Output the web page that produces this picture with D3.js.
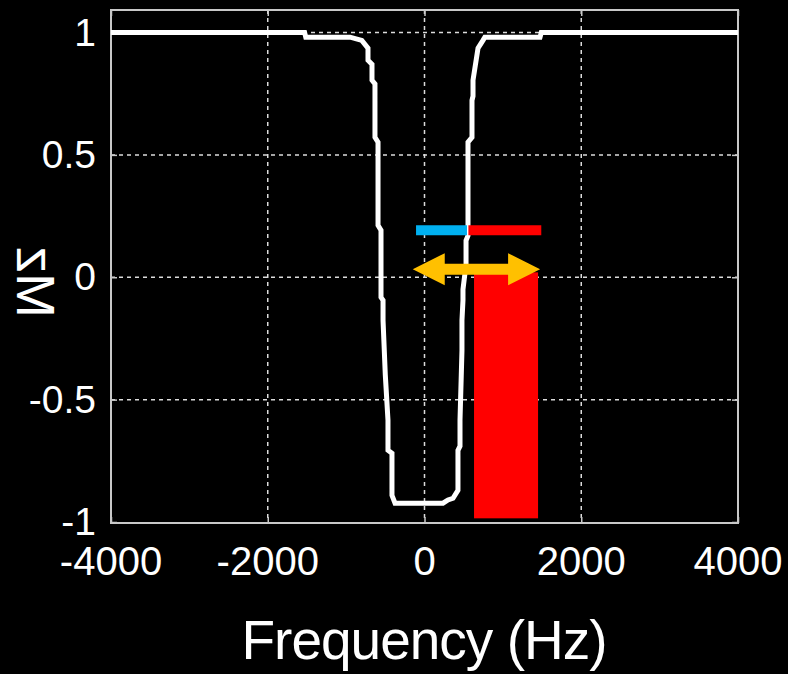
<!DOCTYPE html>
<html><head><meta charset="utf-8">
<script src="https://cdn.jsdelivr.net/npm/d3@7"></script>
<style>
html,body{margin:0;padding:0;background:#000;}
svg{display:block;background:#000;}
text{font-family:"Liberation Sans",Arial,Helvetica,sans-serif;fill:#fff;}
</style></head>
<body><svg id="chart" width="788" height="674"></svg>
<script>
// ---- data ----
const xTicks = [-4000, -2000, 0, 2000, 4000];
const yTicks = [1, 0.5, 0, -0.5, -1];
const xTickLabels = ["-4000", "-2000", "0", "2000", "4000"];
const yTickLabels = ["1", "0.5", "0", "-0.5", "-1"];
const xTitle = "Frequency (Hz)";
const yTitle = "Mz";

// Mz profile (frequency in Hz, Mz)
const freqHz = [-4000, -1530, -1515, -950, -800, -721, -721, -670, -670, -632, -632, -593, -593, -555, -555, -529, -529, -500, -466, -466, -415, -415, -376,
  236, 300, 364, 427, 427, 453, 453, 478, 478, 491, 491, 510, 530, 530, 555, 555, 606, 606, 619, 619, 683, 746, 770, 1474, 1490, 4000];
const mzVals = [1.0, 1.0, 0.981, 0.981, 0.968, 0.936, 0.887, 0.870, 0.805, 0.790, 0.572, 0.552, 0.212, 0.192, -0.082, -0.094, -0.176, -0.40, -0.584, -0.707, -0.719, -0.891, -0.923,
  -0.923, -0.91, -0.903, -0.87, -0.707, -0.69, -0.584, -0.30, -0.176, -0.094, -0.05, 0.0, 0.05, 0.15, 0.17, 0.552, 0.572, 0.723, 0.74, 0.805, 0.936, 0.968, 0.981, 0.981, 1.0, 1.0];

// annotations (data units)
const blueBarX = [-108, 542], blueBarY = 0.192;
const redBarX = [560, 1490], redBarY = 0.192;
const arrowX = [-150, 1475], arrowY = 0.033;
const redRectX = [632, 1449], redRectY = [0.02, -0.985];

// ---- layout ----
const svg = d3.select("#chart");
const pL = 111, pR = 738, pT = 10, pB = 523;
const x = d3.scaleLinear().domain([-4000, 4000]).range([pL, pR]);
const y = d3.scaleLinear().domain([-1, 1]).range([522, 32.5]);

// grid
const grid = svg.append("g").attr("stroke", "#dcdcdc").attr("stroke-width", 1.5).attr("stroke-dasharray", "4,4");
grid.selectAll("line").data(xTicks.slice(1, -1)).join("line")
  .attr("x1", d => x(d)).attr("x2", d => x(d)).attr("y1", pT).attr("y2", pB);
const grid2 = svg.append("g").attr("stroke", "#dcdcdc").attr("stroke-width", 1.5).attr("stroke-dasharray", "4,4");
grid2.selectAll("line").data(yTicks.slice(0, -1)).join("line")
  .attr("y1", d => y(d)).attr("y2", d => y(d)).attr("x1", pL).attr("x2", pR);

// axes (ticks inside)
const axB = svg.append("g").attr("transform", `translate(0,${pB})`)
  .call(d3.axisBottom(x).tickValues(xTicks).tickSize(-6).tickFormat(""));
const axT = svg.append("g").attr("transform", `translate(0,${pT})`)
  .call(d3.axisTop(x).tickValues(xTicks).tickSize(-6).tickFormat(""));
const axL = svg.append("g").attr("transform", `translate(${pL},0)`)
  .call(d3.axisLeft(y).tickValues(yTicks).tickSize(-6).tickFormat(""));
const axR = svg.append("g").attr("transform", `translate(${pR},0)`)
  .call(d3.axisRight(y).tickValues(yTicks).tickSize(-6).tickFormat(""));
[axB, axT, axL, axR].forEach(g => { g.selectAll(".domain").remove(); g.selectAll("line").attr("stroke", "#c8c8c8").attr("stroke-width", 1.5); });

// frame
svg.append("rect").attr("x", pL).attr("y", pT).attr("width", pR - pL).attr("height", pB - pT)
  .attr("fill", "none").attr("stroke", "#c8c8c8").attr("stroke-width", 2);

// tick labels
svg.append("g").selectAll("text").data(xTicks).join("text")
  .attr("x", d => x(d)).attr("y", 575).attr("text-anchor", "middle")
  .attr("font-size", 40).text((d, i) => xTickLabels[i]);
svg.append("g").selectAll("text").data(yTicks).join("text")
  .attr("x", 96).attr("y", d => y(d) + 13).attr("text-anchor", "end")
  .attr("font-size", 39).text((d, i) => yTickLabels[i]);

// titles
svg.append("text").attr("x", 424).attr("y", 659).attr("text-anchor", "middle")
  .attr("font-size", 55).attr("letter-spacing", -1).text(xTitle);
// y title: reads upward with glyph tops facing right (mirrored), as in the reference
svg.append("text").attr("transform", "translate(17,282) scale(-1,1) rotate(-90)").attr("text-anchor", "middle")
  .attr("font-size", 54).text(yTitle);

// curve
const pts = freqHz.map((f, i) => [f, mzVals[i]]);
svg.append("path").datum(pts)
  .attr("d", d3.line().x(d => x(d[0])).y(d => y(d[1])))
  .attr("fill", "none").attr("stroke", "#fff").attr("stroke-width", 5).attr("stroke-linejoin", "miter");

// red rectangle
svg.append("rect").attr("x", x(redRectX[0])).attr("y", y(redRectY[0]))
  .attr("width", x(redRectX[1]) - x(redRectX[0])).attr("height", y(redRectY[1]) - y(redRectY[0]))
  .attr("fill", "#ff0000");

// bars
svg.append("line").attr("x1", x(blueBarX[0])).attr("x2", x(blueBarX[1])).attr("y1", y(blueBarY)).attr("y2", y(blueBarY))
  .attr("stroke", "#00b0f0").attr("stroke-width", 10);
svg.append("line").attr("x1", x(redBarX[0])).attr("x2", x(redBarX[1])).attr("y1", y(redBarY)).attr("y2", y(redBarY))
  .attr("stroke", "#ff0000").attr("stroke-width", 10);

// double arrow
const ax0 = x(arrowX[0]), ax1 = x(arrowX[1]), ay = y(arrowY);
const hl = 32, hh = 16, sh = 5.5;
svg.append("path").attr("fill", "#ffc000").attr("d",
  `M${ax0},${ay} L${ax0 + hl},${ay - hh} L${ax0 + hl},${ay - sh} L${ax1 - hl},${ay - sh} L${ax1 - hl},${ay - hh} L${ax1},${ay} ` +
  `L${ax1 - hl},${ay + hh} L${ax1 - hl},${ay + sh} L${ax0 + hl},${ay + sh} L${ax0 + hl},${ay + hh} Z`);
</script></body></html>
